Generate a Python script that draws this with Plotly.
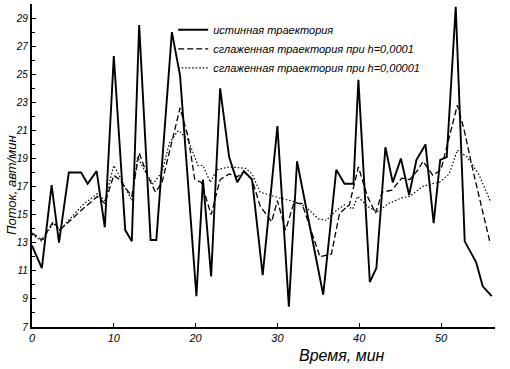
import plotly.graph_objects as go

# true trajectory
t_true = [0, 1.2, 2.4, 3.3, 4.5, 6.0, 6.8, 7.9, 8.9, 10.0, 11.4, 12.2, 13.1, 14.5, 15.2,
          17.1, 18.1, 20.1, 20.9, 21.9, 23.0, 24.1, 25.1, 25.9, 26.9, 28.2, 30.0, 31.4,
          32.4, 35.6, 37.2, 38.2, 39.3, 39.9, 41.3, 42.1, 43.2, 44.1, 45.1, 46.1, 47.0,
          48.1, 49.1, 49.9, 50.7, 51.8, 52.9, 54.3, 55.1, 56.2]
v_true = [12.8, 11.2, 17.1, 13.0, 18.0, 18.0, 17.2, 18.1, 14.1, 26.3, 13.9, 13.1, 28.5, 13.2, 13.2,
          28.0, 24.9, 9.2, 17.5, 10.6, 24.0, 19.1, 17.3, 18.1, 17.5, 10.7, 21.3, 8.45,
          18.8, 9.3, 18.2, 17.2, 17.2, 24.6, 10.2, 11.2, 19.8, 17.3, 19.0, 16.4, 18.9,
          20.0, 14.4, 18.9, 19.1, 29.8, 13.1, 11.6, 9.9, 9.2]

# smoothed, h = 0.0001
t_h1 = [0, 1.2, 2.6, 3.4, 6.2, 8.0, 8.9, 10.0, 10.7, 12.2, 13.1, 14.1, 15.1, 15.9, 18.1,
        19.1, 19.9, 20.7, 21.9, 23.0, 24.1, 25.1, 25.9, 26.9, 27.9, 29.3, 30.0, 31.0,
        32.0, 33.0, 35.2, 36.6, 37.6, 38.8, 39.9, 41.0, 42.0, 42.8, 44.0, 45.2, 46.2,
        47.2, 47.8, 49.0, 50.0, 52.0, 52.8, 54.0, 56.0]
v_h1 = [13.7, 13.2, 14.5, 13.9, 15.4, 16.3, 15.8, 17.8, 17.5, 16.3, 19.4, 17.8, 16.6, 17.3, 22.6,
        20.5, 17.5, 17.3, 15.0, 17.5, 17.9, 17.7, 18.05, 17.5, 15.6, 14.5, 16.0, 13.9,
        15.8, 15.8, 12.0, 12.2, 15.1, 15.7, 18.4, 16.3, 15.1, 16.6, 16.75, 17.6, 17.5,
        18.2, 18.8, 17.8, 18.2, 22.8, 21.1, 17.9, 13.0]

# smoothed, h = 0.00001
t_h2 = [0, 1.2, 2.6, 3.4, 6.2, 8.0, 8.9, 10.0, 10.3, 12.2, 12.9, 14.0, 14.8, 15.9, 16.8,
        17.9, 19.1, 19.9, 20.3, 20.9, 21.8, 22.6, 24.1, 26.1, 26.9, 27.9, 29.5, 30.2,
        32.2, 33.4, 35.0, 36.0, 37.0, 38.2, 39.2, 39.8, 41.0, 42.2, 43.6, 45.2, 46.2,
        47.7, 48.9, 49.8, 51.0, 52.0, 53.2, 54.6, 56.0]
v_h2 = [13.6, 13.1, 14.4, 13.9, 15.7, 16.5, 16.0, 18.5, 18.2, 16.0, 19.1, 17.9, 17.2, 18.05, 20.1,
        21.0, 20.3, 19.0, 18.5, 18.5, 17.3, 18.2, 18.4, 18.3, 17.9, 16.6, 16.3, 16.2,
        15.9, 15.6, 14.7, 14.6, 15.2, 15.7, 15.4, 16.3, 15.6, 15.2, 15.8, 16.2, 16.3,
        17.0, 17.2, 17.3, 17.9, 19.6, 19.1, 17.9, 16.0]

x_ticks = [0, 10, 20, 30, 40, 50]
y_ticks = [7, 9, 11, 13, 15, 17, 19, 21, 23, 25, 27, 29]

names = ["истинная траектория",
         "сглаженная траектория при h=0,0001",
         "сглаженная траектория при h=0,00001"]
x_title = "Время, мин"
y_title = "Поток, авт/мин"

font_fam = "Liberation Sans Narrow, Liberation Sans, DejaVu Sans"

fig = go.Figure()
fig.add_trace(go.Scatter(x=t_true, y=v_true, mode="lines", name=names[0],
                         line=dict(color="black", width=1.9, dash="solid")))
fig.add_trace(go.Scatter(x=t_h1, y=v_h1, mode="lines", name=names[1],
                         line=dict(color="black", width=1.3, dash="6px,3px")))
fig.add_trace(go.Scatter(x=t_h2, y=v_h2, mode="lines", name=names[2],
                         line=dict(color="black", width=1.2, dash="1.5px,2px")))

fig.update_layout(
    width=510, height=369,
    margin=dict(l=32, r=15, t=4, b=42),
    paper_bgcolor="white", plot_bgcolor="white",
    font=dict(family=font_fam, color="black", size=11, style="italic"),
    showlegend=True,
    legend=dict(x=0.305, y=0.965, xanchor="left", yanchor="top",
                bgcolor="rgba(0,0,0,0)", font=dict(size=11, style="italic"),
                tracegroupgap=0),
    xaxis=dict(range=[0, 56.6], tickvals=x_ticks, ticktext=[str(v) for v in x_ticks],
               showgrid=False, zeroline=False, showline=True, linecolor="black",
               linewidth=2.2, ticks="inside", ticklen=4, tickcolor="black",
               tickfont=dict(size=11, style="italic"), automargin=False),
    yaxis=dict(range=[7, 30], tickvals=y_ticks, ticktext=[str(v) for v in y_ticks],
               showgrid=False, zeroline=False, showline=True, linecolor="black",
               linewidth=2.2, ticks="inside", ticklen=4, tickcolor="black",
               minor=dict(dtick=1, ticks="inside", ticklen=3, tickcolor="black"),
               tickfont=dict(size=10, style="italic"), automargin=False),
    annotations=[
        dict(text=x_title, xref="paper", yref="paper", x=0.67, y=-0.087,
             xanchor="center", yanchor="middle", showarrow=False,
             font=dict(size=16, style="italic")),
        dict(text=y_title, xref="paper", yref="paper", x=-0.043, y=0.44,
             xanchor="center", yanchor="middle", showarrow=False, textangle=-90,
             font=dict(size=13, style="italic")),
    ],
)
fig.write_html("out.html", config={"displayModeBar": False},
               post_script="document.body.style.margin='0';document.body.style.overflow='hidden';")
